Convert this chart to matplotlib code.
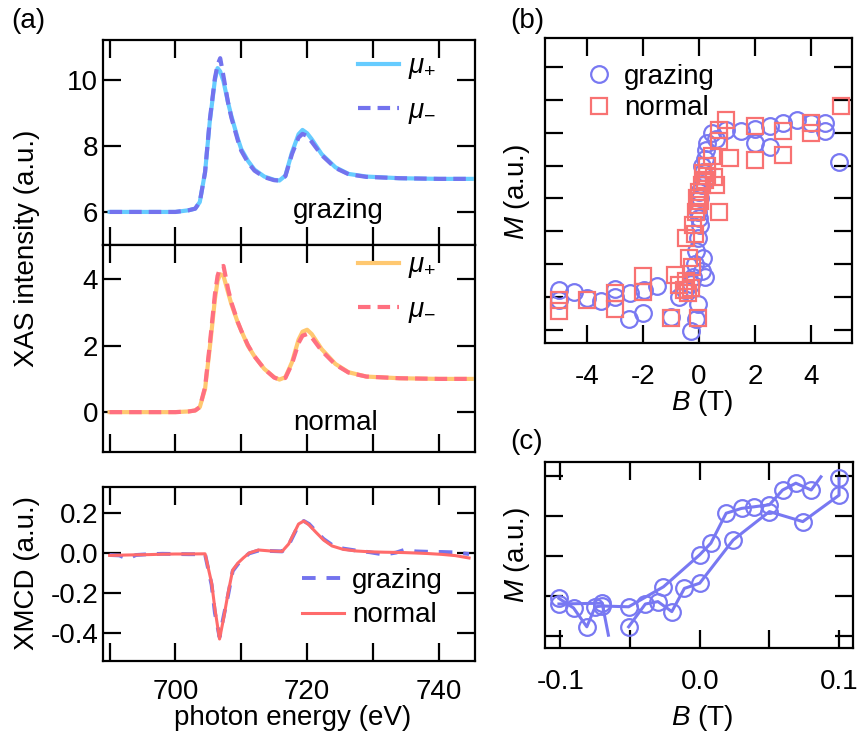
import matplotlib
matplotlib.use("Agg")
import matplotlib.pyplot as plt
from matplotlib.ticker import MultipleLocator, FormatStrFormatter, NullFormatter

# ---- (a) XAS spectra ----
energia = [690, 695, 700, 702, 703, 703.7, 704.5, 705.2, 706.0, 706.4, 706.8, 707.3,
           708.0, 708.5, 709.5, 710.0, 711.0, 712.0, 713.5, 715.0, 715.8, 716.7,
           717.7, 718.7, 719.3, 720.0, 720.7, 722.2, 724.3, 726.3, 729, 734, 740, 745]
grazing_mas = [6.0, 6.0, 6.0, 6.05, 6.1, 6.3, 7.2, 8.7, 10.0, 10.35, 10.25, 9.95,
               9.3, 8.9, 8.2, 7.9, 7.55, 7.28, 7.07, 6.97, 6.95, 7.1,
               7.8, 8.35, 8.48, 8.38, 8.2, 7.75, 7.35, 7.15, 7.07, 7.02, 7.0, 7.0]
grazing_menos = [6.0, 6.0, 6.0, 6.05, 6.1, 6.3, 7.2, 8.75, 10.05, 10.45, 10.65, 10.1,
                 9.3, 8.85, 8.15, 7.85, 7.5, 7.25, 7.05, 6.96, 6.95, 7.08,
                 7.75, 8.25, 8.36, 8.3, 8.12, 7.72, 7.33, 7.14, 7.06, 7.02, 7.0, 7.0]
normal_mas = [0.0, 0.0, 0.0, 0.02, 0.05, 0.15, 0.7, 1.9, 3.4, 3.95, 4.15, 4.1,
              3.6, 3.25, 2.68, 2.45, 2.0, 1.68, 1.3, 1.05, 0.98, 1.05,
              1.5, 2.18, 2.42, 2.48, 2.35, 1.9, 1.45, 1.2, 1.07, 1.02, 1.0, 1.0]
normal_menos = [0.0, 0.0, 0.0, 0.02, 0.05, 0.15, 0.75, 2.0, 3.55, 4.1, 4.35, 4.4,
                3.7, 3.3, 2.7, 2.45, 2.02, 1.68, 1.3, 1.04, 0.98, 1.03,
                1.45, 2.08, 2.3, 2.35, 2.25, 1.85, 1.43, 1.19, 1.07, 1.02, 1.0, 1.0]

# ---- (a) XMCD ----
energia_xmcd = [690, 691.5, 692.7, 694, 696, 698, 700, 702, 704.5, 705.5, 706.0, 706.7,
                707.3, 708.0, 708.7, 709.5, 710.3, 711.2, 712.6, 714.5, 716.2, 717.2,
                718.7, 719.5, 720.3, 721.3, 722.5, 723.8, 725.5, 727.5, 729.5, 731.7,
                733.5, 734.8, 736.5, 738.5, 740.5, 742.5, 744.6]
xmcd_normal = [-0.012, -0.011, -0.01, -0.009, -0.008, -0.006, -0.005, -0.005, -0.004,
               -0.15, -0.28, -0.43, -0.33, -0.2, -0.085, -0.05, -0.025, 0.0, 0.015,
               0.01, 0.008, 0.045, 0.145, 0.16, 0.14, 0.105, 0.065, 0.035, 0.018,
               0.01, 0.006, 0.004, 0.003, 0.002, 0.0, -0.003, -0.007, -0.013, -0.025]
xmcd_grazing = [-0.01, -0.012, -0.03, -0.01, -0.006, -0.004, -0.005, -0.006, -0.006,
                -0.16, -0.3, -0.42, -0.32, -0.21, -0.09, -0.055, -0.028, -0.002, 0.012,
                0.01, 0.008, 0.04, 0.14, 0.16, 0.145, 0.11, 0.07, 0.04, 0.022,
                0.012, 0.004, -0.008, 0.002, 0.016, 0.008, 0.006, 0.005, 0.003, -0.005]

# ---- (b) M(B) ----
B_grazing = [-5.0, -5.0, -4.45, -4.0, -3.5, -3.0, -3.0, -2.5, -2.45, -2.0, -1.95, -1.5,
             -1.0, -0.7, -0.5, -0.3, -0.28, -0.1, -0.05,
             -0.2, -0.15, -0.1, -0.05, 0.0, 0.05, 0.1, 0.1, 0.15, 0.15, 0.2, 0.2, 0.25,
             0.05, 0.0, -0.05, 0.1,
             0.3, 0.45, 0.6, 0.95, 1.5, 2.0, 2.0, 2.55, 2.55, 3.0, 3.5, 4.0, 4.5, 4.5, 5.0]
M_grazing = [-0.70, -0.77, -0.71, -0.76, -0.78, -0.69, -0.75, -0.92, -0.72, -0.87, -0.70, -0.67,
             -0.90, -0.75, -0.70, -0.65, -1.01, -0.92, -0.80,
             -0.60, -0.50, -0.40, -0.30, -0.15, 0.0, 0.10, -0.55, 0.20, -0.45, 0.30, -0.60, 0.37,
             -0.20, 0.05, -0.10, 0.25,
             0.42, 0.50, 0.45, 0.52, 0.51, 0.53, 0.42, 0.55, 0.39, 0.57, 0.60, 0.57, 0.57, 0.51, 0.28]
B_normal = [-5.0, -5.0, -4.0, -3.0, -3.0, -2.0, -2.0, -1.0, -0.85, -0.7, -0.55, -0.45,
            -0.4, -0.3, -0.02,
            -0.45, -0.35, -0.25, -0.2, -0.15, -0.1, -0.08, -0.05, 0.0, 0.05, 0.1, 0.15,
            0.2, 0.3, 0.3, 0.45, 0.7, 0.55, 0.6,
            0.7, 0.7, 0.95, 1.1, 2.0, 2.0, 3.0, 3.0, 4.0, 4.0, 5.05]
M_normal = [-0.77, -0.86, -0.77, -0.72, -0.84, -0.59, -0.71, -0.91, -0.58, -0.66, -0.70, -0.63,
            -0.72, -0.68, -0.91,
            -0.30, -0.45, -0.52, -0.20, -0.27, -0.10, 0.0, -0.05, 0.05, -0.02, 0.10, 0.19,
            0.14, 0.17, 0.25, 0.32, -0.10, 0.16, 0.10,
            0.44, 0.52, 0.60, 0.31, 0.55, 0.29, 0.51, 0.33, 0.57, 0.50, 0.70]

# ---- (c) zoom cerca de B = 0 ----
B_sub = [-0.101, -0.0905, -0.081, -0.075, -0.070, -0.051, -0.026, 0.0, 0.008, 0.019,
         0.030, 0.039, 0.050, 0.0595, 0.069, 0.080, 0.087]
M_sub = [-0.106, -0.130, -0.177, -0.127, -0.125, -0.127, -0.077, 0.003, 0.032, 0.107,
         0.119, 0.123, 0.128, 0.165, 0.182, 0.165, 0.198]
B_baj = [-0.051, -0.039, -0.030, -0.020, -0.011, 0.0, 0.024, 0.050, 0.074, 0.100, 0.100]
M_baj = [-0.177, -0.120, -0.114, -0.139, -0.081, -0.068, 0.040, 0.111, 0.086, 0.152, 0.194]
B_ini = [-0.101, -0.070, -0.0655]
M_ini = [-0.120, -0.118, -0.198]

plt.rcParams.update({
    "font.family": ["Liberation Sans", "DejaVu Sans"],
    "font.size": 20,
    "axes.unicode_minus": False,
    "mathtext.fontset": "custom",
    "mathtext.rm": "Liberation Sans",
    "mathtext.it": "Liberation Sans:italic",
    "axes.linewidth": 1.6,
    "xtick.direction": "in", "ytick.direction": "in",
    "xtick.top": True, "ytick.right": True,
    "xtick.major.size": 13, "ytick.major.size": 13,
    "xtick.minor.size": 13, "ytick.minor.size": 13,
    "xtick.major.width": 1.6, "ytick.major.width": 1.6,
    "xtick.minor.width": 1.6, "ytick.minor.width": 1.6,
    "ytick.major.pad": 3.5,
})

W, H = 857, 738


def caja(izq, der, arriba, abajo):
    return [izq / W, 1 - abajo / H, (der - izq) / W, (abajo - arriba) / H]


fig = plt.figure(figsize=(W / 100, H / 100), dpi=100)

azul_c = "#66ccff"
azul = "#7373ee"
naranja = "#ffc870"
rosa = "#ff7080"
rojo = "#ff6b6b"
punto_azul = "#7878f2"
punto_rojo = "#f87272"
guion = (0, (3, 1.7))

# top: grazing XAS
ax1 = fig.add_axes(caja(103, 475, 40, 245))
ax1.plot(energia, grazing_mas, color=azul_c, lw=3, label=r"$\mu_{+}$")
ax1.plot(energia, grazing_menos, color=azul, lw=3, ls=guion, label=r"$\mu_{-}$")
ax1.set_ylim(5.0, 11.2)
ax1.set_yticks([6, 8, 10])
ax1.text(0.632, 0.13, "grazing", transform=ax1.transAxes, ha="center", va="baseline")
ax1.legend(loc="upper left", bbox_to_anchor=(0.685, 0.935), frameon=False,
           handlelength=1.5, handletextpad=0.3, labelspacing=0.6,
           borderpad=0, borderaxespad=0)

# middle: normal XAS
ax2 = fig.add_axes(caja(103, 475, 245, 452))
ax2.plot(energia, normal_mas, color=naranja, lw=3, label=r"$\mu_{+}$")
ax2.plot(energia, normal_menos, color=rosa, lw=3, ls=guion, label=r"$\mu_{-}$")
ax2.set_ylim(-1.2, 5.03)
ax2.set_yticks([0, 2, 4])
ax2.text(0.625, 0.106, "normal", transform=ax2.transAxes, ha="center", va="baseline")
ax2.legend(loc="upper left", bbox_to_anchor=(0.685, 0.965), frameon=False,
           handlelength=1.5, handletextpad=0.3, labelspacing=0.6,
           borderpad=0, borderaxespad=0)

# bottom: XMCD
ax3 = fig.add_axes(caja(103, 475, 487, 661))
ax3.plot(energia_xmcd, xmcd_grazing, color=azul, lw=2.8, ls=(0, (3.5, 2.8)), label="grazing")
ax3.plot(energia_xmcd, xmcd_normal, color=rojo, lw=2.2, label="normal")
ax3.set_ylim(-0.54, 0.33)
ax3.set_yticks([-0.4, -0.2, 0.0, 0.2])
ax3.yaxis.set_major_formatter(FormatStrFormatter("%.1f"))
ax3.legend(loc="upper left", bbox_to_anchor=(0.535, 0.535), frameon=False,
           handlelength=1.5, handletextpad=0.3, labelspacing=0.3,
           borderpad=0, borderaxespad=0)

for ax in (ax1, ax2, ax3):
    ax.set_xlim(689, 745.5)
    ax.xaxis.set_major_locator(MultipleLocator(10))
for ax in (ax1, ax2):
    ax.xaxis.set_major_formatter(NullFormatter())
ax3.set_xticks([690, 700, 710, 720, 730, 740])
ax3.set_xticklabels(["", "700", "", "720", "", "740"])
ax3.tick_params(axis="x", pad=13)

# (b) full loop
axb = fig.add_axes(caja(545, 852, 38, 343))
axb.plot(B_grazing, M_grazing, ls="none", marker="o", ms=12, mfc="none",
         mec=punto_azul, mew=1.6, label="grazing")
axb.plot(B_normal, M_normal, ls="none", marker="s", ms=12, mfc="none",
         mec=punto_rojo, mew=1.6, label="normal")
axb.set_xlim(-5.5, 5.46)
axb.set_ylim(-1.1, 1.22)
axb.set_xticks([-4, -2, 0, 2, 4])
axb.yaxis.set_major_locator(MultipleLocator(0.25))
axb.yaxis.set_major_formatter(NullFormatter())
axb.tick_params(axis="x", pad=15)
axb.legend(loc="upper left", bbox_to_anchor=(0.135, 0.915), frameon=False,
           handlelength=0.9, handletextpad=0.45, labelspacing=0.2,
           borderpad=0, borderaxespad=0)

# (c) low field detail
axc = fig.add_axes(caja(545, 853, 462, 648))
estilo = dict(color=punto_azul, lw=2.2, marker="o", ms=12, mfc="none", mew=1.6)
axc.plot(B_sub, M_sub, markevery=list(range(len(B_sub) - 1)), **estilo)
axc.plot(B_baj, M_baj, **estilo)
axc.plot(B_ini, M_ini, markevery=[0, 1], **estilo)
axc.set_xlim(-0.111, 0.11)
axc.set_ylim(-0.23, 0.235)
axc.set_xticks([-0.1, 0.0, 0.1])
axc.xaxis.set_minor_locator(MultipleLocator(0.05))
axc.xaxis.set_major_formatter(FormatStrFormatter("%.1f"))
axc.yaxis.set_major_locator(MultipleLocator(0.1))
axc.yaxis.set_major_formatter(NullFormatter())
axc.tick_params(axis="x", pad=15)

# labels
fig.text(27 / W, 1 - 248 / H, "XAS intensity (a.u.)", rotation=90, ha="center", va="center")
fig.text(27 / W, 1 - 573 / H, "XMCD (a.u.)", rotation=90, ha="center", va="center")
fig.text(293 / W, 1 - 718 / H, "photon energy (eV)", ha="center", va="center")
fig.text(517 / W, 1 - 192 / H, r"$M$ (a.u.)", rotation=90, ha="center", va="center")
fig.text(702 / W, 1 - 403 / H, r"$B$ (T)", ha="center", va="center")
fig.text(517 / W, 1 - 555 / H, r"$M$ (a.u.)", rotation=90, ha="center", va="center")
fig.text(702 / W, 1 - 718 / H, r"$B$ (T)", ha="center", va="center")
fig.text(28 / W, 1 - 21 / H, "(a)", ha="center", va="center")
fig.text(527 / W, 1 - 21 / H, "(b)", ha="center", va="center")
fig.text(527 / W, 1 - 442 / H, "(c)", ha="center", va="center")

fig.savefig("out.png", dpi=100)
